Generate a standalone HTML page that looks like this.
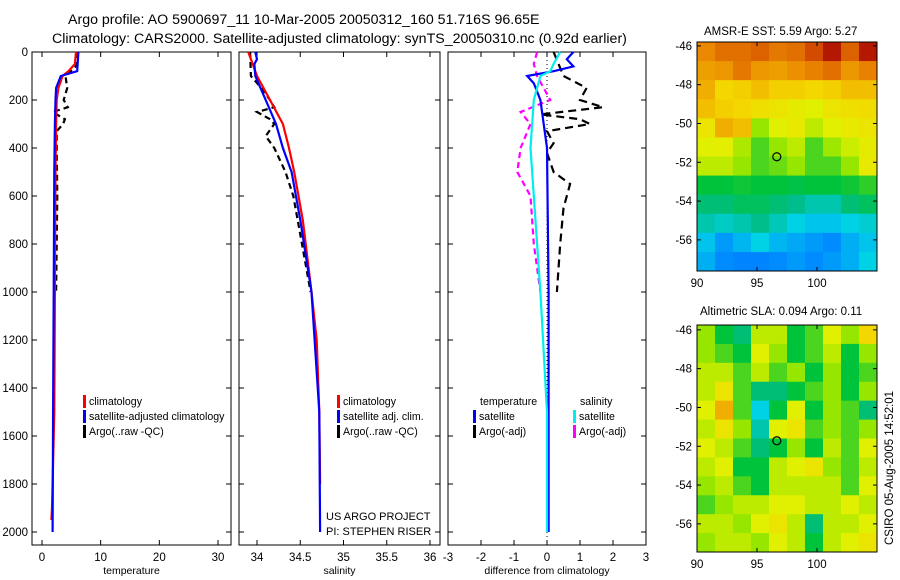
<!DOCTYPE html>
<html><head><meta charset="utf-8"><style>
body{margin:0;background:#fff}
svg{display:block;font-family:"Liberation Sans",sans-serif}
</style></head><body>
<svg id="c" width="900" height="580">
<text x="68" y="24" font-size="14.2">Argo profile: AO 5900697_11 10-Mar-2005 20050312_160 51.716S 96.65E</text>
<text x="52" y="43" font-size="14.2">Climatology: CARS2000. Satellite-adjusted climatology: synTS_20050310.nc (0.92d earlier)</text>
<text x="704" y="35" font-size="11.5">AMSR-E SST: 5.59 Argo: 5.27</text>
<text x="700" y="315" font-size="11.5">Altimetric SLA: 0.094 Argo: 0.11</text>
<text transform="translate(893,545) rotate(-90)" font-size="11.5">CSIRO 05-Aug-2005 14:52:01</text>
<g id="g"></g>
</svg>
<script>
// ---- profile data ----
const depthRedT=[0,50,80,100,150,200,300,500,1000,1500,1900,1950];
const valRedT=[5.8,5.6,4.5,3.5,2.8,2.5,2.4,2.3,2.2,2.1,1.7,1.6];
const depthBlueT=[0,80,100,150,200,300,500,1000,1500,2000];
const valBlueT=[6.2,6.0,3.2,2.4,2.3,2.2,2.1,2.0,1.9,1.8];
const depthArgoT=[0,60,100,150,200,230,250,280,300,330,400,600,1000];
const valArgoT=[5.9,5.8,4.0,4.3,3.7,4.4,1.8,3.9,3.6,2.5,2.5,2.6,2.4];
const depthRedS=[0,100,200,300,400,500,700,1000,1200,1500,1800];
const valRedS=[33.9,34.0,34.15,34.3,34.37,34.43,34.53,34.63,34.69,34.72,34.73];
const depthBlueS=[0,30,50,100,200,300,400,500,700,1000,1500,2000];
const valBlueS=[33.98,34.0,33.97,33.98,34.1,34.22,34.3,34.4,34.5,34.63,34.72,34.73];
const depthArgoS=[0,100,150,200,230,250,280,300,350,400,500,600,800,1000];
const valArgoS=[33.92,33.93,34.05,34.15,34.2,34.0,34.15,34.2,34.1,34.2,34.33,34.42,34.52,34.62];
const depthDT=[0,30,60,80,100,130,200,400,1000,2000];
const valDT=[0.8,0.6,0.8,0.2,-0.6,-0.4,-0.2,0,0.05,0.05];
const depthDS=[0,50,80,100,200,400,600,1000,1500,2000];
const valDS=[0.4,0.2,0.1,-0.2,-0.4,-0.5,-0.4,-0.2,0,0];
const depthDArgoT=[0,100,150,200,230,260,280,300,330,380,420,500,550,650,800,1000];
const valDArgoT=[0.2,0.5,1.2,1.0,1.7,-0.2,1.0,1.3,0,0.2,0,0.2,0.7,0.5,0.4,0.3];
const depthDArgoS=[0,50,100,150,200,250,300,400,500,600,800,1000];
const valDArgoS=[-0.3,-0.4,-0.3,-0.1,0.1,-0.8,-0.5,-0.8,-0.9,-0.5,-0.4,-0.2];
const tTicks=[0,10,20,30], sTicks=[34,34.5,35,35.5,36], dTicks=[-3,-2,-1,0,1,2,3];
const depthTicks=[0,200,400,600,800,1000,1200,1400,1600,1800,2000];
// ---- map data (rows north->south, cols west->east) ----
const sstGrid=[
[8.5,8.8,8.8,9,8.7,8.8,9.3,9.8,9,9.8],
[8.2,8.3,8.7,8.3,8.2,8.4,8.6,8.8,8.3,8.6],
[8,7.5,7.6,7.8,7.6,7.6,7.5,7.6,7.8,7.8],
[7.8,7.6,7.5,7.2,7,6.7,6.5,7,7.2,7.3],
[7,8,7.8,5.5,6.5,6.8,6,6.5,6.8,7],
[6.5,6.6,5.8,5,5.5,6,5,5.6,6.2,6.7],
[6,6,5.5,5,5.2,5.5,5,5,5.5,6.8],
[4.5,4.5,4.6,4.5,4.5,4.4,4.5,4.5,4.6,4.8],
[4,4,4.2,4.2,4,3.8,3.5,3.5,4,4.2],
[3.5,3.3,3.5,3.8,3.4,3,2.8,2.8,3,3.2],
[2.8,2.2,2.6,3,2.6,2.4,2.2,2,2.5,2.8],
[2.5,2,1.8,1.8,2,2.2,2,2.2,2.5,3]];
const slaGrid=[
[5.5,4.5,4,6,6,4.5,5,6.5,5.5,7.5],
[5.5,5,4.5,6.5,5.5,4.5,5,6,4.5,5.5],
[6,6,5,6,5,5.5,4.5,5.5,4.5,5],
[6,7,5,4,4,4.5,5,5.5,4.5,5.5],
[6.5,8,5,3,4.5,6.5,4.5,5.5,5,4],
[6,7,5.5,3.5,6.5,7,5,5.5,5,5.5],
[6.5,6,5,4,4.5,5.5,4.5,6,5,6.5],
[6,6.5,4.5,4.5,6,6.5,7,5.5,5,6],
[5.5,6,5,4.5,6,6,6,6,5,6.5],
[5,5.5,6,6,6.5,6.5,6,6,6.5,6],
[6,6,5.5,6.5,7,6,4,6,6,6.5],
[5.5,6,6,5.5,6.5,6,4.5,6,6.5,7]];
const lonTicks=[90,95,100], latTicks=[-46,-48,-50,-52,-54,-56];
const argoLon=96.65, argoLat=-51.716;

const NS='http://www.w3.org/2000/svg';
const G=document.getElementById('g');
function el(t,a,p){const e=document.createElementNS(NS,t);for(const k in a)e.setAttribute(k,a[k]);(p||G).appendChild(e);return e;}
function txt(x,y,s,anchor,size){const e=el('text',{x:x,y:y,'font-size':size||11,'text-anchor':anchor||'start'});e.textContent=s;return e;}
const yD=d=>52+d*0.24;

function panel(name,x0,x1,v0,p0,v1,p1,ticks,label,showY){
  const sx=v=>p0+(v-v0)/(v1-v0)*(p1-p0);
  const fr=el('rect',{x:x0,y:52,width:x1-x0,height:493,fill:'none',stroke:'#000'});
  
  
  ticks.forEach(t=>{const X=sx(t);el('line',{x1:X,y1:545,x2:X,y2:540,stroke:'#000'});el('line',{x1:X,y1:52,x2:X,y2:57,stroke:'#000'});
    const tl=txt(X,561,String(t),'middle',11.5);
    
    });
  depthTicks.forEach(d=>{const Y=yD(d);el('line',{x1:x0,y1:Y,x2:x0+5,y2:Y,stroke:'#000'});el('line',{x1:x1,y1:Y,x2:x1-5,y2:Y,stroke:'#000'});
    if(showY){const tl=txt(x0-4,Y+4,String(d),'end',11.5);
      
      }});
  const xl=txt((x0+x1)/2,574,label,'middle',10.5);
  
  
  return sx;
}
function line(sx,ds,vs,color,dash,w,name){
  const pts=ds.map((d,i)=>sx(vs[i]).toFixed(1)+','+yD(d).toFixed(1)).join(' ');
  const p=el('polyline',{points:pts,fill:'none',stroke:color,'stroke-width':w||2.2});
  if(dash)p.setAttribute('stroke-dasharray',dash);
  
  
}
function legend(x,y,items){items.forEach((it,i)=>{const Y=y+i*15;
  const m=el('rect',{x:x,y:Y-10,width:3,height:13,fill:it[1]});
  
  
  const t=txt(x+6,Y,it[0],'start',10.6);
  
  });}

const sT=panel('temperature',32,231,0,42,30,218,tTicks,'temperature',true);
line(sT,depthArgoT,valArgoT,'#000','6,4',2.2,'argo-temperature-line');
line(sT,depthRedT,valRedT,'#f00',null,2.2,'climatology-temperature-line');
line(sT,depthBlueT,valBlueT,'#00f',null,2.2,'satellite-temperature-line');
legend(83,405,[['climatology','#f00'],['satellite-adjusted climatology','#00f'],['Argo(..raw -QC)','#000']]);

const sS=panel('salinity',239,440,34,257,36,430,sTicks,'salinity',false);
line(sS,depthArgoS,valArgoS,'#000','6,4',2.2,'argo-salinity-line');
line(sS,depthRedS,valRedS,'#f00',null,2.2,'climatology-salinity-line');
line(sS,depthBlueS,valBlueS,'#00f',null,2.2,'satellite-salinity-line');
legend(337,405,[['climatology','#f00'],['satellite adj. clim.','#00f'],['Argo(..raw -QC)','#000']]);
const u1=txt(326,520,'US ARGO PROJECT','start',11);
const u2=txt(326,535,'PI: STEPHEN RISER','start',11);

const sD=panel('difference',448,646,-3,448,3,646,dTicks,'difference from climatology',false);
el('line',{x1:sD(0),y1:52,x2:sD(0),y2:545,stroke:'#000','stroke-dasharray':'1,3'});
line(sD,depthDArgoT,valDArgoT,'#000','8,5',2.2,'argo-temperature-diff-line');
line(sD,depthDArgoS,valDArgoS,'#f0f','6,4',2.2,'argo-salinity-diff-line');
line(sD,depthDT,valDT,'#00f',null,2.2,'satellite-temperature-diff-line');
line(sD,depthDS,valDS,'#0ee',null,2.2,'satellite-salinity-diff-line');
const tt=txt(480,405,'temperature','start',10.6);
legend(473,420,[['satellite','#00f'],['Argo(-adj)','#000']]);
const st=txt(580,405,'salinity','start',10.6);
legend(573,420,[['satellite','#0ee'],['Argo(-adj)','#f0f']]);

const cmV=[0,2,3,3.8,4.5,5.5,6.5,7.5,8.5,9.5,10];
const cmC=[[0,60,255],[0,140,255],[0,210,230],[0,190,140],[0,195,60],[150,230,0],[225,240,0],[245,215,0],[235,135,0],[205,60,0],[165,0,0]];
function cmap(v){v=Math.max(0,Math.min(10,v));let i=0;while(i<cmV.length-2&&v>cmV[i+1])i++;
  const t=(v-cmV[i])/(cmV[i+1]-cmV[i]),a=cmC[i],b=cmC[i+1];
  return `rgb(${a.map((c,k)=>Math.round(c+(b[k]-c)*t)).join(',')})`;}
function map(name,grid,top,bottom,lat0){
  const L=697,R=877,lx=v=>L+(v-90)*12,ly=v=>top+(lat0-v)*19.4;
  const rows=grid.length,cols=grid[0].length,cw=(R-L)/cols,ch=(bottom-top)/rows;
  grid.forEach((row,i)=>row.forEach((v,j)=>{
    const c=el('rect',{x:L+j*cw,y:top+i*ch,width:cw+0.5,height:ch+0.5,fill:cmap(v)});
    
    }));
  const f=el('rect',{x:L,y:top,width:R-L,height:bottom-top,fill:'none',stroke:'#000'});
  
  lonTicks.forEach(v=>{const X=lx(v);el('line',{x1:X,y1:bottom,x2:X,y2:bottom-4,stroke:'#000'});el('line',{x1:X,y1:top,x2:X,y2:top+4,stroke:'#000'});
    const t=txt(X,bottom+16,String(v),'middle',11.5);});
  latTicks.forEach(v=>{const Y=ly(v);el('line',{x1:L,y1:Y,x2:L+4,y2:Y,stroke:'#000'});el('line',{x1:R,y1:Y,x2:R-4,y2:Y,stroke:'#000'});
    const t=txt(L-5,Y+4,String(v),'end',11.5);});
  const m=el('circle',{cx:lx(argoLon),cy:ly(argoLat),r:4,fill:'none',stroke:'#000','stroke-width':1.2});
  
}
map('sst-map',sstGrid,42,271,-45.8);
map('sla-map',slaGrid,325,552,-45.75);
</script>
</body></html>
